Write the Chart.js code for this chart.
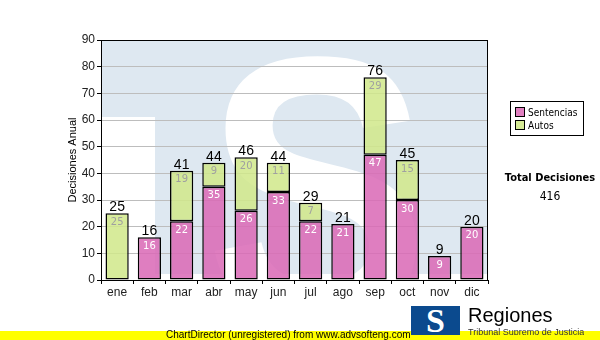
<!DOCTYPE html>
<html>
<head>
<meta charset="utf-8">
<script src="https://cdn.jsdelivr.net/npm/chart.js@4/dist/chart.umd.min.js"></script>
<style>
  body { margin: 0; background: #fff; }
  #wrap { position: relative; width: 600px; height: 340px; overflow: hidden; font-family: "DejaVu Sans Condensed", "DejaVu Sans", sans-serif; }
  #chart { position: absolute; left: 0; top: 0; }
  .legend { position: absolute; left: 510px; top: 101px; width: 72px; height: 33px; border: 1px solid #000; background: #fff; font-size: 10px; }
  .legend div { position: absolute; left: 4px; white-space: nowrap; line-height: 12px; }
  .legend span { display: inline-block; width: 8px; height: 8px; border: 1px solid #000; margin-right: 3px; vertical-align: -1px; }
  .total { position: absolute; left: 490px; width: 120px; text-align: center; white-space: nowrap; }
  .band { position: absolute; left: 0; top: 331px; width: 600px; height: 9px; background: #ffff00; font-family: "Liberation Sans", Arial, sans-serif; font-size: 10px; line-height: 10px; }
  .band div { position: absolute; left: 166px; top: -1px; }
  .logo { position: absolute; left: 411px; top: 306px; width: 49px; height: 29px; background: #0b4a8e; color: #fff; font: bold 34px "Liberation Serif", serif; text-align: center; line-height: 30px; overflow: hidden; }
  .regiones { position: absolute; left: 468px; top: 304px; font: 20px "Liberation Sans", Arial, sans-serif; color: #000; }
  .sub { position: absolute; left: 468px; top: 327px; font: 9px "Liberation Sans", Arial, sans-serif; color: #333; height: 8px; overflow: hidden; }
</style>
</head>
<body>
<div id="wrap">
  <canvas id="chart" width="600" height="340"></canvas>
  <div class="legend">
    <div style="top:5px"><span style="background:#e07fc0"></span>Sentencias</div>
    <div style="top:18px"><span style="background:#d6eb96"></span>Autos</div>
  </div>
  <div class="total" style="top:171px;font-weight:bold;font-size:11px">Total Decisiones</div>
  <div class="total" style="top:189px;font-size:12px">416</div>
  <div class="band"><div>ChartDirector (unregistered) from www.advsofteng.com</div></div>
  <div class="sub">Tribunal Supremo de Justicia</div>
  <div class="logo">S</div>
  <div class="regiones">Regiones</div>
</div>
<script>
// datos del gráfico
const meses = ['ene', 'feb', 'mar', 'abr', 'may', 'jun', 'jul', 'ago', 'sep', 'oct', 'nov', 'dic'];
const sentencias = [0, 16, 22, 35, 26, 33, 22, 21, 47, 30, 9, 20];
const autos = [25, 0, 19, 9, 20, 11, 7, 0, 29, 15, 0, 0];
const yTicks = [0, 10, 20, 30, 40, 50, 60, 70, 80, 90];

// marca de agua detrás del área de trazado
const watermark = {
    id: 'watermark',
    beforeDraw(chart) {
        const { ctx, chartArea: a } = chart;
        ctx.save();
        ctx.beginPath();
        ctx.rect(a.left, a.top, a.right - a.left, a.bottom - a.top);
        ctx.clip();
        ctx.fillStyle = '#dee8f1';
        ctx.fillRect(a.left, a.top, a.right - a.left, a.bottom - a.top - 6);
        ctx.fillStyle = '#ffffff';
        ctx.fillRect(a.left, a.top + 77, 54, a.bottom - a.top);
        ctx.translate(205, 0);
        ctx.scale(1.12, 1.25);
        ctx.font = 'bold 300px "Liberation Sans"';
        ctx.textBaseline = 'alphabetic';
        ctx.fillText('S', 0, 318 / 1.25);
        ctx.restore();
    },
    beforeDatasetsDraw(chart) {
        const { ctx, chartArea: a } = chart;
        ctx.save();
        ctx.strokeStyle = '#000';
        ctx.lineWidth = 1;
        ctx.strokeRect(a.left + 0.5, a.top + 0.5, a.right - a.left - 1, a.bottom - a.top);
        ctx.restore();
    }
};

// etiquetas de valores
const valueLabels = {
    id: 'valueLabels',
    afterDatasetsDraw(chart) {
        const ctx = chart.ctx;
        const m0 = chart.getDatasetMeta(0);
        const m1 = chart.getDatasetMeta(1);
        ctx.save();
        ctx.textAlign = 'center';
        ctx.textBaseline = 'middle';
        ctx.font = '10px "DejaVu Sans"';
        [[m0, sentencias, '#ffffff'], [m1, autos, '#a0a0a0']].forEach(([meta, vals, col]) => {
            meta.data.forEach((bar, i) => {
                if (!vals[i]) return;
                ctx.fillStyle = col;
                ctx.fillText(vals[i], bar.x, bar.y + 9);
            });
        });
        ctx.font = '14px "Liberation Sans"';
        ctx.fillStyle = '#000';
        ctx.textBaseline = 'bottom';
        meses.forEach((m, i) => {
            const total = sentencias[i] + autos[i];
            const top = autos[i] ? m1.data[i].y : m0.data[i].y;
            ctx.fillText(total, m0.data[i].x, top + 1);
        });
        ctx.restore();
    }
};

const bw = c => (c.raw ? 1.5 : 0);

new Chart(document.getElementById('chart'), {
    type: 'bar',
    data: {
        labels: meses,
        datasets: [
            {
                label: 'Sentencias',
                data: sentencias,
                backgroundColor: 'rgba(218,105,182,0.86)',
                borderColor: '#000',
                borderWidth: bw,
                borderSkipped: false,
                barPercentage: 0.72,
                categoryPercentage: 1
            },
            {
                label: 'Autos',
                data: autos,
                backgroundColor: 'rgba(208,232,138,0.86)',
                borderColor: '#000',
                borderWidth: bw,
                borderSkipped: false,
                barPercentage: 0.72,
                categoryPercentage: 1
            }
        ]
    },
    options: {
        responsive: false,
        animation: false,
        layout: { padding: { left: 66, right: 112, top: 40, bottom: 40 } },
        plugins: { legend: { display: false }, tooltip: { enabled: false } },
        scales: {
            x: {
                stacked: true,
                afterFit: s => { s.height = 20; },
                grid: { drawOnChartArea: false, color: '#000', tickLength: 4 },
                border: { color: '#000' },
                ticks: { color: '#222', font: { family: 'Liberation Sans', size: 12 }, padding: 1 }
            },
            y: {
                stacked: true,
                min: 0,
                max: 90,
                afterFit: s => { s.width = 35; },
                afterBuildTicks: s => { s.ticks = yTicks.map(v => ({ value: v })); },
                grid: { color: '#bdbdbd', tickColor: '#000', tickLength: 4 },
                border: { color: '#000' },
                ticks: { color: '#222', font: { family: 'Liberation Sans', size: 12 }, padding: 2 },
                title: {
                    display: true,
                    text: 'Decisiones Anual',
                    color: '#000',
                    font: { family: 'Liberation Sans', size: 11 },
                    padding: 0
                }
            }
        }
    },
    plugins: [watermark, valueLabels]
});
</script>
</body>
</html>
